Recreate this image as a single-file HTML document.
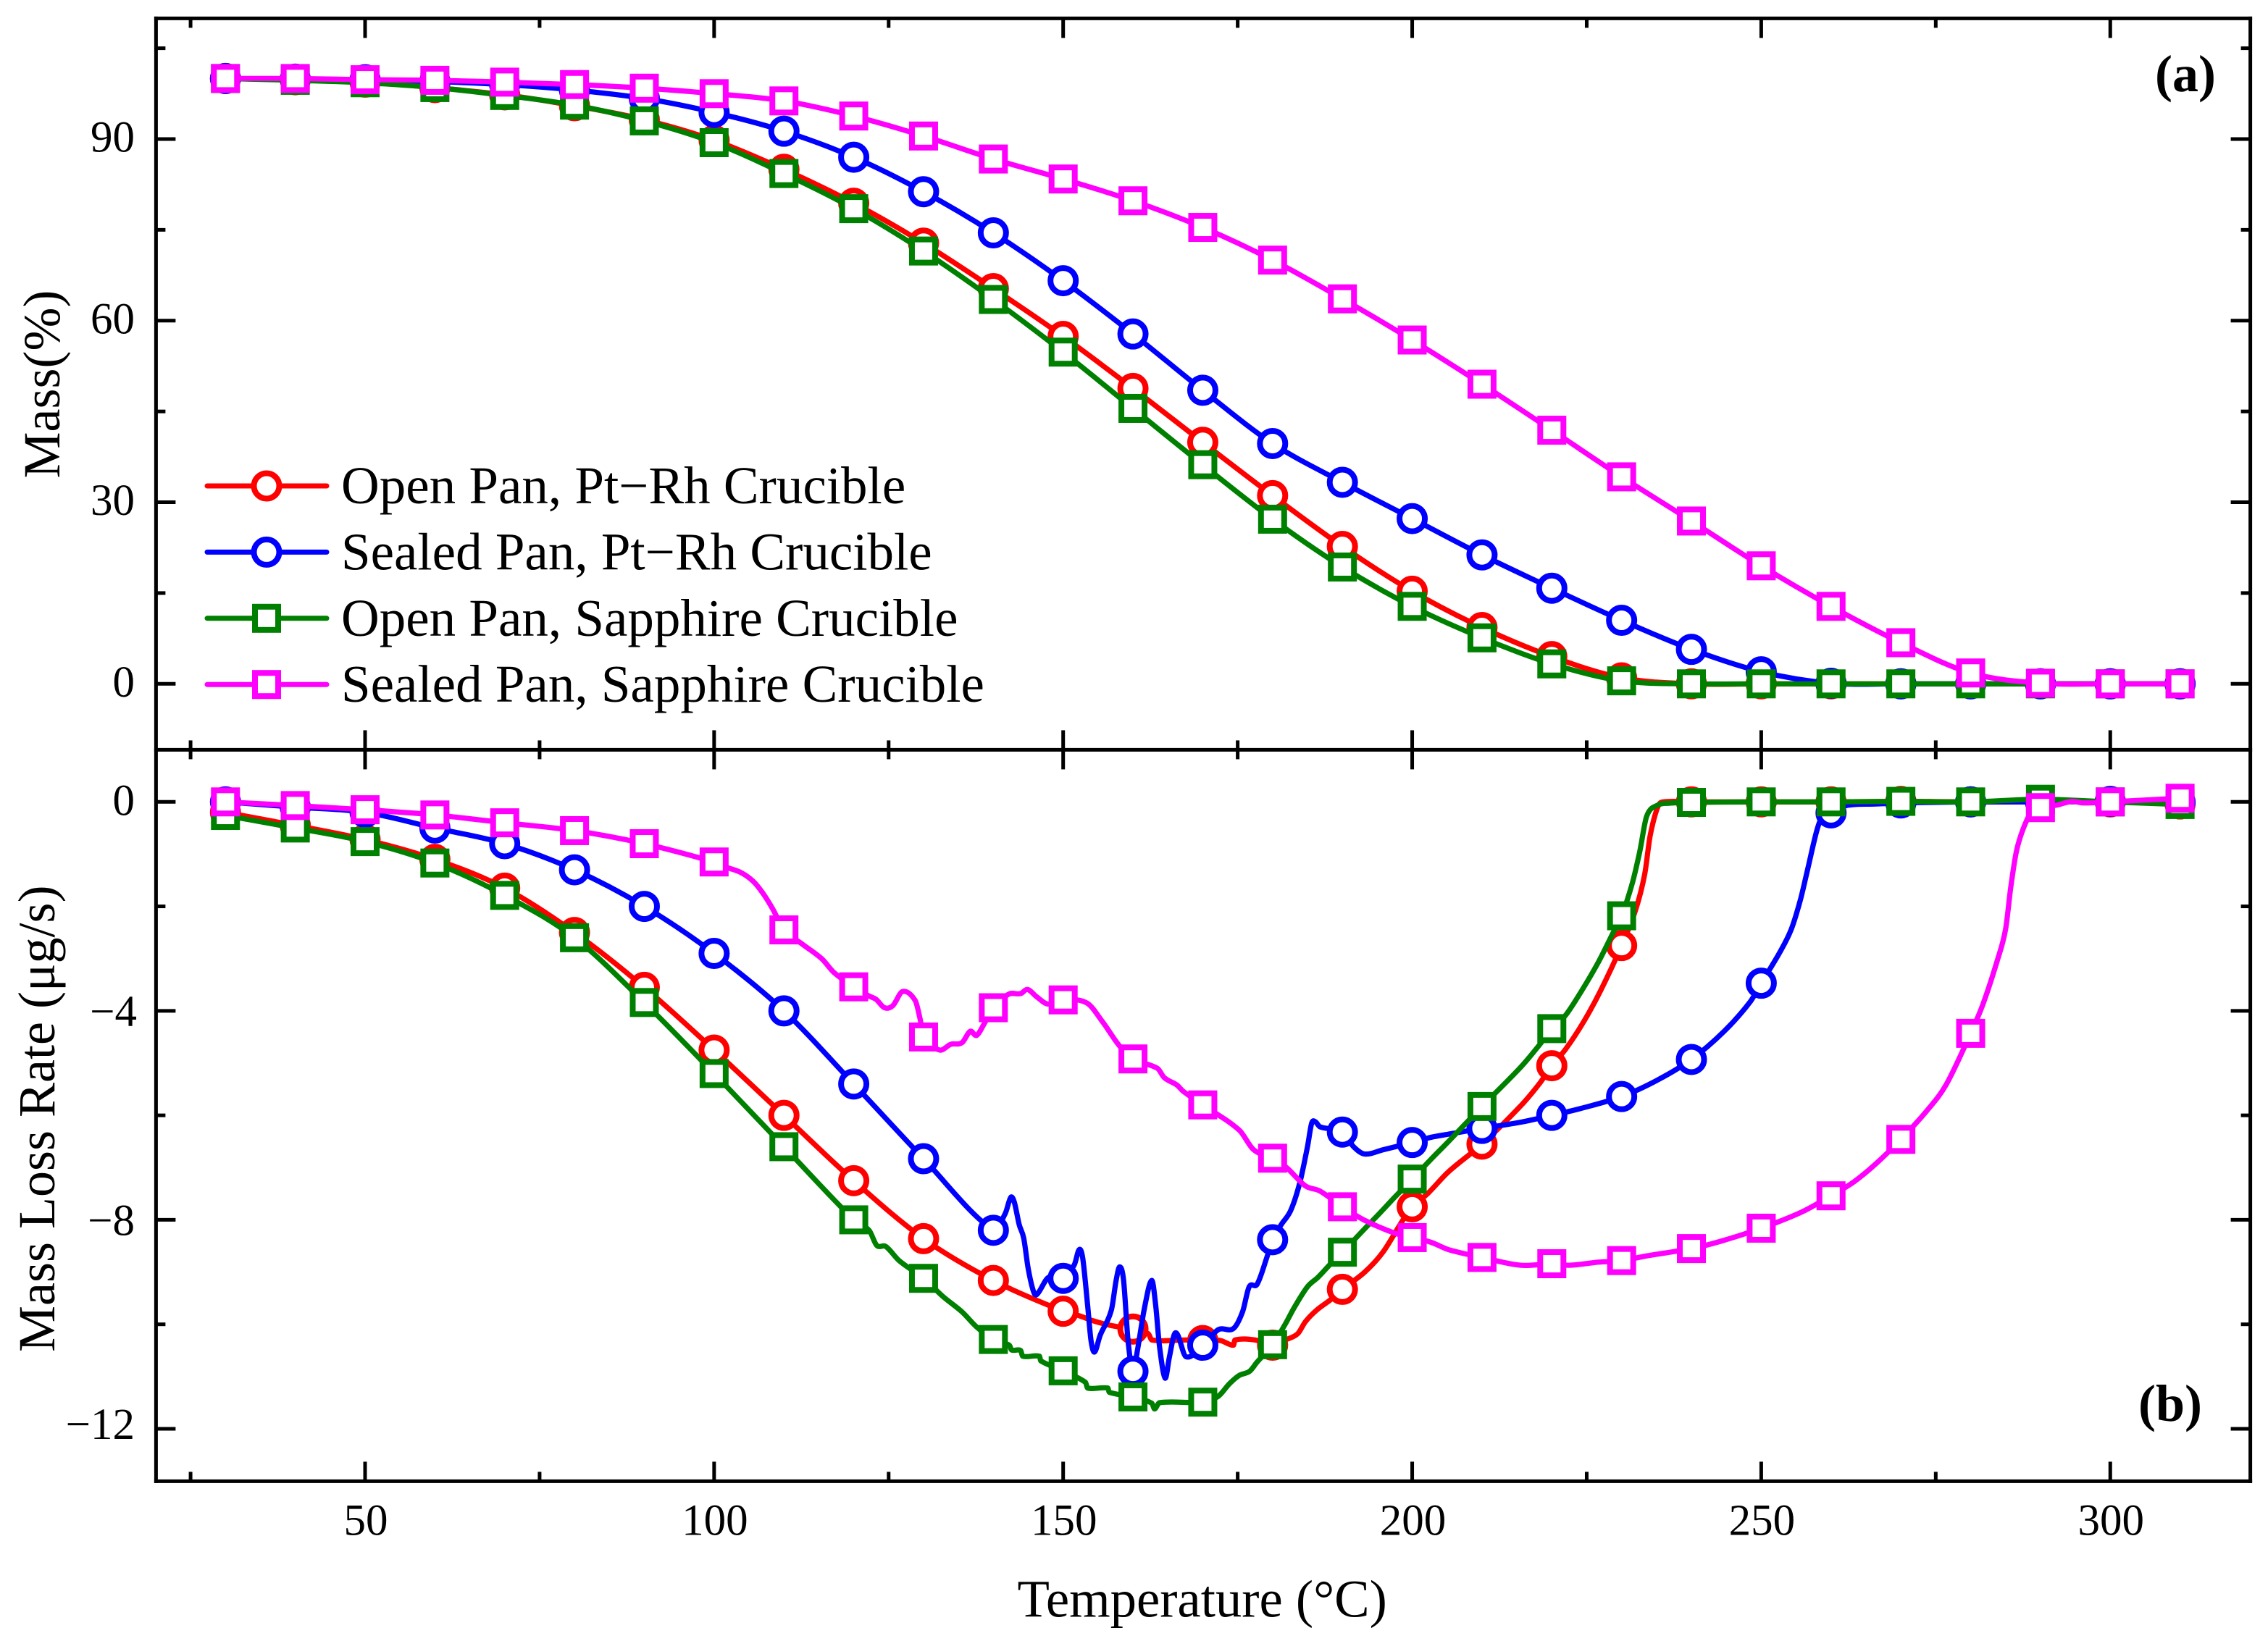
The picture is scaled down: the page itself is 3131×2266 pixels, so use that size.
<!DOCTYPE html>
<html lang="en">
<head>
<meta charset="utf-8">
<title>Mass and mass loss rate versus temperature</title>
<style>
html,body{margin:0;padding:0;background:#fff;}
svg{display:block;}
text{font-family:"Liberation Serif",serif;fill:#000;}
</style>
</head>
<body>
<svg id="chart" xmlns="http://www.w3.org/2000/svg" width="3131" height="2266" viewBox="0 0 3131 2266">
  <rect x="0" y="0" width="3131" height="2266" fill="#fff"/>
  <g id="series-a"></g>
  <g id="series-b"></g>
  <g id="axes"></g>
  <text x="1404.5" y="2232.5" font-size="72.7">Temperature (°C)</text>
  <text transform="translate(82 660.5) rotate(-90)" font-size="72">Mass(%)</text>
  <text transform="translate(75 1867) rotate(-90)" font-size="72">Mass Loss Rate (μg/s)</text>
  <text x="2975" y="126" font-size="72" font-weight="bold">(a)</text>
  <text x="2952" y="1962" font-size="72" font-weight="bold">(b)</text>
  <g id="legend"></g>
</svg>
<script>
// ---- category / tick arrays ----
const massTemps = [30,40,50,60,70,80,90,100,110,120,130,140,150,160,170,180,190,200,210,220,230,240,250,260,270,280,290,300,310];
const xMajorTicks = [50,100,150,200,250,300];
const xMinorTicks = [25,75,125,175,225,275];
const massMajorTicks = [0,30,60,90];
const massMinorTicks = [15,45,75,105];
const rateMajorTicks = [0,-4,-8,-12];
const rateMinorTicks = [-2,-6,-10];

// ---- panel (a): mass % ----
const massOpenPt = [100,99.8,99.4,98.5,97.3,95.5,93.2,89.8,85,79.4,72.8,65.3,57.4,48.8,39.9,31.1,22.7,15.3,9.3,4.5,1,0,0,0,0,0,0,0,0];
const massSealedPt = [100,99.9,99.8,99.5,99,98.1,96.7,94.4,91.3,87,81.3,74.5,66.6,57.8,48.5,39.7,33.3,27.3,21.3,15.8,10.5,5.7,2,0.1,0,0,0,0,0];
const massOpenSapphire = [100,99.7,99.3,98.5,97.2,95.6,93,89.4,84.3,78.5,71.5,63.5,54.8,45.5,36.2,27.2,19.3,12.8,7.6,3.3,0.5,0,0,0,0,0,0,0,0];
const massSealedSapphire = [100,100,99.8,99.7,99.4,99,98.4,97.5,96.3,93.8,90.5,86.7,83.4,79.8,75.4,70,63.6,56.8,49.5,41.9,34.2,26.9,19.5,12.8,6.8,1.8,0.1,0,0];

// ---- panel (b): mass loss rate, denser sampling ----
const rateTempsOpenPt = [30,40,50,60,70,80,90,100,110,120,130,140,150,152.4,154,156.1,158,160,162.2,162.7,167.7,170,172.5,174.4,174.6,177.5,180,182,183.6,184.7,186.3,188.4,190,193.2,195.8,198.5,200,202.2,205.2,210,215.6,218.3,220,222,224.6,227,230,232,233.3,234.1,235.2,236,240,250,260,270,280,290,300,310];
const rateOpenPt = [-0.2,-0.45,-0.72,-1.1,-1.65,-2.5,-3.55,-4.75,-6,-7.25,-8.36,-9.16,-9.75,-9.84,-9.92,-10,-10.05,-10.09,-10.18,-10.3,-10.3,-10.31,-10.31,-10.4,-10.3,-10.3,-10.4,-10.29,-10.18,-9.95,-9.73,-9.52,-9.33,-9,-8.62,-8.04,-7.75,-7.5,-7.08,-6.55,-5.81,-5.38,-5.05,-4.73,-4.2,-3.61,-2.75,-2.07,-1.39,-0.64,-0.09,0,0,0,0,0.01,0,0,0,-0.04];

const rateTempsSealedPt = [30,40,50,60,70,80,90,100,110,120,130,140,141.7,142.5,143,143.7,144.35,145,145.8,146.3,147.9,150,151.6,152.3,152.8,153.5,154,154.5,155.3,156.9,157.6,158.1,158.65,159.3,160,160.6,161.66,162.7,163.25,163.8,164.6,165.2,165.9,166.4,167.6,170,172.25,174.4,175.7,176.65,177.8,179.3,180,181.25,182.6,183.9,185,185.6,186.1,186.8,190,191.6,193.2,195.8,200,202.7,205.2,210,215.6,220,224.1,230,235.2,240,244.7,248.4,250,252.7,254.3,255.6,256.6,257.96,258.8,260,262.2,266.4,270,280,290,300,310];
const rateSealedPt = [0,-0.1,-0.2,-0.5,-0.8,-1.3,-2,-2.9,-4,-5.4,-6.83,-8.2,-7.88,-7.57,-7.66,-8.09,-8.35,-8.94,-9.39,-9.42,-9.1,-9.12,-8.86,-8.57,-8.73,-9.63,-10.32,-10.53,-10.21,-9.73,-9.15,-8.9,-9.15,-10.32,-10.9,-10.53,-9.68,-9.16,-9.63,-10.42,-11.03,-10.64,-10.2,-10.2,-10.62,-10.4,-10.1,-10.08,-9.76,-9.28,-9.23,-8.67,-8.38,-8.09,-7.82,-7.29,-6.6,-6.15,-6.12,-6.22,-6.32,-6.6,-6.74,-6.66,-6.52,-6.42,-6.36,-6.25,-6.13,-6,-5.87,-5.64,-5.32,-4.93,-4.39,-3.83,-3.47,-2.87,-2.44,-1.88,-1.32,-0.55,-0.27,-0.21,-0.07,-0.04,-0.02,0,0,0.01,0];

const rateTempsOpenSapphire = [30,40,50,60,70,80,90,100,110,120,122.2,123.3,124.6,126.5,130,132.8,135.5,137.6,140,142.3,142.6,143.9,144.2,146.6,146.8,150,153.2,153.5,156.4,156.6,160,162.7,163.1,163.8,170,172.2,173.8,175.2,176.7,177.8,180,181.8,183.1,185,186.5,188.4,190,193.2,195.3,197.4,200,202.7,205.2,210,215.6,218.3,220,222,224.3,226.7,228.8,230,231.5,232.6,233.6,235.2,236.8,240,250,260,270,280,290,300,310];
const rateOpenSapphire = [-0.26,-0.5,-0.76,-1.17,-1.79,-2.6,-3.84,-5.2,-6.6,-8,-8.2,-8.49,-8.51,-8.78,-9.12,-9.47,-9.76,-10.05,-10.29,-10.4,-10.49,-10.5,-10.61,-10.61,-10.7,-10.89,-11.11,-11.22,-11.22,-11.3,-11.39,-11.51,-11.62,-11.5,-11.49,-11.38,-11.14,-10.98,-10.9,-10.72,-10.39,-10,-9.68,-9.28,-9.1,-8.83,-8.62,-8.17,-7.88,-7.58,-7.22,-6.84,-6.5,-5.83,-5.07,-4.64,-4.34,-4.08,-3.61,-3.06,-2.5,-2.18,-1.57,-0.95,-0.27,-0.06,-0.025,-0.01,0,0,0.01,0,0.05,0,-0.05];

const rateTempsSealedSapphire = [30,40,50,60,70,80,90,100,101.5,103.8,105.6,107,108.4,110,112.6,115.4,117.2,120,122.1,123.2,124.4,125.6,127,128.8,129.5,130,132.3,133.9,135.5,136.7,137.6,138.8,140,142.2,143.9,144.9,146.2,147.8,150,153.4,155.7,158,160,163.5,164.5,166.3,167.2,170,175.2,177.3,180,182,184.7,186.8,190,193.2,197.4,200,202.7,205.2,210,215.6,220,222.5,226.7,230,233.6,240,244.2,250,255.8,260,263.3,266.4,270,273.8,276.5,280,281.8,283.9,285,285.75,286.55,287.6,288.9,290,292.4,294.5,296.1,300,310];
const rateSealedSapphire = [0,-0.07,-0.15,-0.25,-0.4,-0.55,-0.8,-1.15,-1.24,-1.35,-1.52,-1.75,-2.05,-2.45,-2.72,-3,-3.27,-3.54,-3.71,-3.78,-3.94,-3.9,-3.63,-3.8,-4.15,-4.5,-4.75,-4.64,-4.61,-4.39,-4.47,-4.22,-3.94,-3.68,-3.67,-3.59,-3.73,-3.87,-3.79,-3.85,-4.22,-4.66,-4.92,-5.1,-5.28,-5.42,-5.54,-5.8,-6.28,-6.66,-6.82,-7,-7.35,-7.45,-7.75,-8.01,-8.25,-8.34,-8.43,-8.57,-8.72,-8.87,-8.84,-8.87,-8.81,-8.78,-8.69,-8.55,-8.41,-8.16,-7.85,-7.54,-7.27,-6.93,-6.46,-5.9,-5.41,-4.43,-3.86,-3,-2.44,-1.63,-0.95,-0.49,-0.15,-0.11,-0.06,0.01,-0.02,0,0.07];

// ---- axis functions ----
const SVGNS = 'http://www.w3.org/2000/svg';
const PLOT_L = 215.4, PLOT_R = 3106.6, PLOT_T = 25.4, PLOT_M = 1035.4, PLOT_B = 2045.4;
function xScale(t){ return 504 + (t - 50) * 9.637; }
function yMass(v){ return 944.3 - v * 8.359; }
function yRate(v){ return 1107.3 - v * 72.14; }

function mk(tag, attrs, parent){
  const el = document.createElementNS(SVGNS, tag);
  for (const k in attrs) el.setAttribute(k, attrs[k]);
  parent.appendChild(el);
  return el;
}

// piecewise cubic through points with finite-difference slopes
function curve(ts, vs, yFn){
  const xs = ts.map(xScale), ys = vs.map(yFn), n = xs.length, m = [];
  for (let i = 0; i < n; i++){
    const a = Math.max(i - 1, 0), b = Math.min(i + 1, n - 1);
    m.push((ys[b] - ys[a]) / (xs[b] - xs[a]));
  }
  let d = 'M' + xs[0].toFixed(2) + ' ' + ys[0].toFixed(2);
  for (let i = 0; i < n - 1; i++){
    const h = (xs[i + 1] - xs[i]) / 3;
    d += 'C' + (xs[i] + h).toFixed(2) + ' ' + (ys[i] + m[i] * h).toFixed(2) + ' ' +
         (xs[i + 1] - h).toFixed(2) + ' ' + (ys[i + 1] - m[i + 1] * h).toFixed(2) + ' ' +
         xs[i + 1].toFixed(2) + ' ' + ys[i + 1].toFixed(2);
  }
  return d;
}

function drawMarker(parent, kind, color, cx, cy){
  if (kind === 'circle'){
    return mk('ellipse', {cx: cx, cy: cy, rx: 17.5, ry: 17.5, fill: '#fff', stroke: color, 'stroke-width': 8}, parent);
  }
  return mk('rect', {x: cx - 16, y: cy - 16, width: 32, height: 32, fill: '#fff', stroke: color, 'stroke-width': 8}, parent);
}

function drawSeries(parent, name, ts, vs, yFn, color, kind){
  const g = mk('g', {}, parent);
  
  
  const line = mk('path', {d: curve(ts, vs, yFn), fill: 'none', stroke: color, 'stroke-width': 7.2, 'stroke-linejoin': 'round', 'stroke-linecap': 'round'}, g);
  
  
  ts.forEach(function(t, i){
    if (t % 10 !== 0) return;
    const mark = drawMarker(g, kind, color, xScale(t), yFn(vs[i]));
    
    
  });
}

const gA = document.getElementById('series-a');
drawSeries(gA, 'mass-open-pt-rh', massTemps, massOpenPt, yMass, '#ff0000', 'circle');
drawSeries(gA, 'mass-sealed-pt-rh', massTemps, massSealedPt, yMass, '#0000ff', 'circle');
drawSeries(gA, 'mass-open-sapphire', massTemps, massOpenSapphire, yMass, '#008000', 'square');
drawSeries(gA, 'mass-sealed-sapphire', massTemps, massSealedSapphire, yMass, '#ff00ff', 'square');

const gB = document.getElementById('series-b');
drawSeries(gB, 'rate-open-pt-rh', rateTempsOpenPt, rateOpenPt, yRate, '#ff0000', 'circle');
drawSeries(gB, 'rate-sealed-pt-rh', rateTempsSealedPt, rateSealedPt, yRate, '#0000ff', 'circle');
drawSeries(gB, 'rate-open-sapphire', rateTempsOpenSapphire, rateOpenSapphire, yRate, '#008000', 'square');
drawSeries(gB, 'rate-sealed-sapphire', rateTempsSealedSapphire, rateSealedSapphire, yRate, '#ff00ff', 'square');

// ---- axes ----
const axes = document.getElementById('axes');
function tick(x1, y1, x2, y2, name){
  const t = mk('line', {x1: x1, y1: y1, x2: x2, y2: y2, stroke: '#000', 'stroke-width': 5}, axes);
  
  
}
function frame(x1, y1, x2, y2, name){
  const l = mk('line', {x1: x1, y1: y1, x2: x2, y2: y2, stroke: '#000', 'stroke-width': 5, 'stroke-linecap': 'square'}, axes);
  
  
}
frame(PLOT_L, PLOT_T, PLOT_R, PLOT_T, 'top-axis-line');
frame(PLOT_L, PLOT_M, PLOT_R, PLOT_M, 'panel-separator-line');
frame(PLOT_L, PLOT_B, PLOT_R, PLOT_B, 'bottom-axis-line');
frame(PLOT_L, PLOT_T, PLOT_L, PLOT_B, 'left-axis-line');
frame(PLOT_R, PLOT_T, PLOT_R, PLOT_B, 'right-axis-line');

const MAJOR = 27, MINOR = 13;
function xTicks(list, len, kind){
  list.forEach(function(t){
    const x = xScale(t);
    tick(x, PLOT_T, x, PLOT_T + len, 'x-' + kind + '-tick-top-' + t);
    tick(x, PLOT_M, x, PLOT_M - len, 'x-' + kind + '-tick-a-bottom-' + t);
    tick(x, PLOT_M, x, PLOT_M + len, 'x-' + kind + '-tick-b-top-' + t);
    tick(x, PLOT_B, x, PLOT_B - len, 'x-' + kind + '-tick-bottom-' + t);
  });
}
xTicks(xMajorTicks, MAJOR, 'major');
xTicks(xMinorTicks, MINOR, 'minor');

function yTicks(list, yFn, len, prefix){
  list.forEach(function(v){
    const y = yFn(v);
    tick(PLOT_L, y, PLOT_L + len, y, prefix + '-left-tick-' + v);
    tick(PLOT_R, y, PLOT_R - len, y, prefix + '-right-tick-' + v);
  });
}
yTicks(massMajorTicks, yMass, MAJOR, 'mass-major');
yTicks(massMinorTicks, yMass, MINOR, 'mass-minor');
yTicks(rateMajorTicks, yRate, MAJOR, 'rate-major');
yTicks(rateMinorTicks, yRate, MINOR, 'rate-minor');

xMajorTicks.forEach(function(t){
  const lab = mk('text', {x: xScale(t) + 1, y: 2119.5, 'font-size': 61, 'text-anchor': 'middle'}, axes);
  lab.textContent = String(t);
  
  
});
massMajorTicks.forEach(function(v){
  const lab = mk('text', {x: 186, y: yMass(v) + 17.5, 'font-size': 61, 'text-anchor': 'end'}, axes);
  lab.textContent = String(v);
  
  
});
rateMajorTicks.forEach(function(v){
  const dy = v === -12 ? 14 : (v === 0 ? 18 : 21);
  const lab = mk('text', {x: v === -4 ? 189 : 186, y: yRate(v) + dy, 'font-size': 61, 'text-anchor': 'end'}, axes);
  lab.textContent = v < 0 ? '\u2212' + Math.abs(v) : String(v);
  
  
});

// ---- legend ----
const legendNames = ['Open Pan, Pt\u2212Rh Crucible', 'Sealed Pan, Pt\u2212Rh Crucible', 'Open Pan, Sapphire Crucible', 'Sealed Pan, Sapphire Crucible'];
const legendColors = ['#ff0000', '#0000ff', '#008000', '#ff00ff'];
const legendKinds = ['circle', 'circle', 'square', 'square'];
const legend = document.getElementById('legend');
legendNames.forEach(function(label, i){
  const cy = 671 + i * 91.4;
  const g = mk('g', {}, legend);
  
  
  const ln = mk('line', {x1: 286, y1: cy, x2: 451, y2: cy, stroke: legendColors[i], 'stroke-width': 7, 'stroke-linecap': 'round'}, g);
  
  
  const mark = drawMarker(g, legendKinds[i], legendColors[i], 368, cy);
  
  
  const tx = mk('text', {x: 471, y: cy + 24, 'font-size': 73}, g);
  tx.textContent = label;
  
  
});
</script>
</body>
</html>
